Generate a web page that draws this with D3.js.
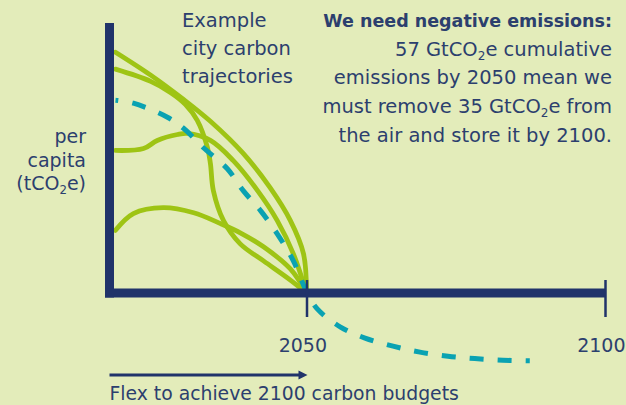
<!DOCTYPE html>
<html><head><meta charset="utf-8">
<script src="https://cdn.jsdelivr.net/npm/d3@7/dist/d3.min.js"></script>
<style>
body{margin:0;background:#e3ecba}
svg{display:block;font-family:"DejaVu Sans",sans-serif}
</style>
</head><body>
<svg id="chart" width="626" height="405"></svg>
<script>
// ---------- data ----------
const tickYears = [2050, 2100];
const axisStartYear = 2017;
const axisEndYear = 2100;
const perCapitaMax = 10;

// example city trajectories: [year, tCO2e per capita]
const trajectoryOuter = [[2018,8.92],[2023.9,8.07],[2029.4,7.17],[2033.9,6.36],[2039.4,5.17],[2043.9,3.90],[2047.3,2.68],[2049.5,1.45],[2050,0]];
const trajectorySteep = [[2018,8.29],[2023.9,7.84],[2027.2,7.43],[2029.7,6.99],[2031.7,6.39],[2033.4,5.39],[2033.9,4.80],[2034.4,3.79],[2036.1,2.68],[2038.9,1.82],[2042.8,1.19],[2047.3,0.48],[2050,0]];
const trajectoryBump = [[2018,5.28],[2022.7,5.35],[2025.0,5.65],[2028.4,5.87],[2030.1,5.91],[2033.9,5.65],[2037.7,4.91],[2041.8,3.79],[2045.1,2.68],[2047.8,1.45],[2050,0]];
const trajectoryLow = [[2018,2.32],[2021.0,2.94],[2026.0,3.16],[2031.1,2.97],[2035.6,2.57],[2038.9,2.23],[2042.8,1.71],[2047.3,0.89],[2050,0]];
const greenTrajectories = [trajectoryOuter, trajectorySteep, trajectoryBump, trajectoryLow];

// global pathway (dashed) including negative emissions after 2050
const globalPathway = [[2018,7.14],[2021.0,7.03],[2026.7,6.51],[2029.4,6.10],[2032.7,5.39],[2036.7,4.61],[2039.4,3.79],[2042.3,3.05],[2045.1,2.19],[2047.8,1.19],[2050,0.05],[2051.8,-0.59],[2055.7,-1.26],[2059.8,-1.67],[2064.5,-1.97],[2069.0,-2.19],[2073.7,-2.34],[2078.2,-2.43],[2082.9,-2.49],[2087.4,-2.51]];

// texts
const yLabelLines = [["per"], ["capita"], ["(tCO", {sub:"2"}, "e)"]];
const exampleLines = ["Example", "city carbon", "trajectories"];
const noteTitle = "We need negative emissions:";
const noteLines = [["57 GtCO", {sub:"2"}, "e cumulative"], ["emissions by 2050 mean we"], ["must remove 35 GtCO", {sub:"2"}, "e from"], ["the air and store it by 2100."]];
const flexLabel = "Flex to achieve 2100 carbon budgets";

// ---------- style ----------
const NAVY = "#20336a", TEXT = "#2c3f6e", GREEN = "#9ec414", TEAL = "#0aa2b2";

const svg = d3.select("#chart");
svg.append("rect").attr("width", 626).attr("height", 405).attr("fill", "#e3ecba");

const x = d3.scaleLinear().domain([axisStartYear, axisEndYear]).range([109.5, 605]);
const y = d3.scaleLinear().domain([0, perCapitaMax]).range([293, 23]);

const line = d3.line()
  .x(d => x(d[0])).y(d => y(d[1]))
  .curve(d3.curveCatmullRom.alpha(0.5));

// green trajectories
svg.append("g").selectAll("path").data(greenTrajectories).join("path")
  .attr("d", line)
  .attr("fill", "none").attr("stroke", GREEN)
  .attr("stroke-width", 4.8).attr("stroke-linecap", "round").attr("stroke-linejoin", "round");

// teal dashed pathway
svg.append("path").datum(globalPathway)
  .attr("d", line)
  .attr("fill", "none").attr("stroke", TEAL)
  .attr("stroke-width", 5).attr("stroke-dasharray", "14,14").attr("stroke-dashoffset", 11);

// axes
const axW = 9;
svg.append("line")
  .attr("x1", x(axisStartYear)).attr("x2", x(axisStartYear))
  .attr("y1", y(perCapitaMax)).attr("y2", y(0) + axW / 2)
  .attr("stroke", NAVY).attr("stroke-width", axW);
svg.append("line")
  .attr("x1", x(axisStartYear) - axW / 2).attr("x2", x(axisEndYear))
  .attr("y1", y(0)).attr("y2", y(0))
  .attr("stroke", NAVY).attr("stroke-width", axW);

const xAxis = d3.axisBottom(x).tickValues(tickYears).tickFormat(d3.format("d")).tickSize(24).tickPadding(0);
const gx = svg.append("g").attr("transform", `translate(0,${y(0)})`).call(xAxis);
gx.select(".domain").remove();
gx.selectAll(".tick line").attr("y1", -13).attr("y2", 24).attr("stroke", NAVY).attr("stroke-width", 2.5);
gx.selectAll(".tick text")
  .attr("y", 59).attr("dy", 0).attr("x", 20)
  .attr("text-anchor", "end")
  .attr("fill", TEXT).attr("font-size", 19)
  .attr("font-family", "DejaVu Sans, sans-serif");

// rich text helper: strings on the baseline, {sub} lowered and smaller
function richText(sel, parts, size) {
  let shift = 0;
  parts.forEach(p => {
    if (typeof p === "string") {
      sel.append("tspan").attr("dy", -shift).text(p);
      shift = 0;
    } else {
      sel.append("tspan").attr("font-size", size * 0.62).attr("dy", 4).text(p.sub);
      shift = 4;
    }
  });
}

// y label
yLabelLines.forEach((parts, i) => {
  const t = svg.append("text").attr("x", 86).attr("y", 143 + i * 23.5)
    .attr("text-anchor", "end").attr("fill", TEXT).attr("font-size", 19);
  richText(t, parts, 19);
});

// example label
exampleLines.forEach((s, i) => {
  svg.append("text").attr("x", 182).attr("y", 27 + i * 28)
    .attr("fill", TEXT).attr("font-size", 19.5).text(s);
});

// note
svg.append("text").attr("x", 612).attr("y", 27).attr("text-anchor", "end")
  .attr("fill", TEXT).attr("font-size", 17.5).attr("font-weight", 700).text(noteTitle);
noteLines.forEach((parts, i) => {
  const t = svg.append("text").attr("x", 612).attr("y", 55.7 + i * 28.7)
    .attr("text-anchor", "end").attr("fill", TEXT).attr("font-size", 19.5);
  richText(t, parts, 19.5);
});

// flex arrow
const arrowY = 375;
svg.append("line")
  .attr("x1", x(axisStartYear)).attr("x2", x(2050) - 6)
  .attr("y1", arrowY).attr("y2", arrowY)
  .attr("stroke", NAVY).attr("stroke-width", 3);
svg.append("path")
  .attr("d", `M${x(2050) + 1},${arrowY} L${x(2050) - 8},${arrowY - 4.5} L${x(2050) - 8},${arrowY + 4.5} Z`)
  .attr("fill", NAVY);
svg.append("text").attr("x", x(axisStartYear)).attr("y", 400)
  .attr("fill", TEXT).attr("font-size", 18.8).text(flexLabel);
</script>
</body></html>
